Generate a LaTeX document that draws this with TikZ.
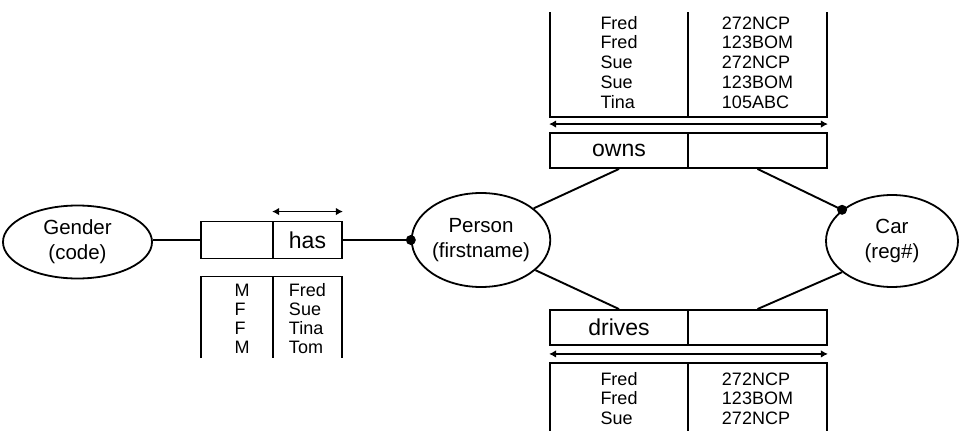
\documentclass[tikz,border=0pt]{standalone}
\usepackage{fontspec}
\setmainfont{Liberation Sans}
\usetikzlibrary{shapes.geometric,arrows.meta}

\tikzset{
  ent/.style={draw, ellipse, line width=1.8pt, inner sep=0pt, align=center,
              font=\fontsize{20.5}{25}\selectfont},
  cell/.style={draw, rectangle, line width=1.9pt, inner sep=0pt,
               font=\fontsize{23}{27}\selectfont},
  conn/.style={line width=1.9pt},
  rolespan/.style={line width=1.8pt, {Latex[length=7pt,width=7.5pt]}-{Latex[length=7pt,width=7.5pt]}},
  joint/.style={circle, fill, inner sep=0pt, minimum size=10pt},
  popcol/.style={anchor=base, inner sep=0pt, font=\fontsize{18}{19.9}\selectfont},
  popcolb/.style={anchor=base, inner sep=0pt, font=\fontsize{18}{19}\selectfont},
  frame/.style={line width=1.7pt}
}

\newcommand{\coltext}[1]{\begin{tabular}[t]{@{}l@{}}#1\end{tabular}}

\begin{document}
\begin{tikzpicture}[x=1pt, y=-1pt]
\useasboundingbox (0,0) rectangle (959,431);

% entity types
\node[ent, minimum width=149pt, minimum height=73pt] (gender) at (77.5,242) {Gender\\(code)};
\node[ent, minimum width=138pt, minimum height=94pt] (person) at (481,240) {Person\\(firstname)};
\node[ent, minimum width=132pt, minimum height=92pt] (car) at (892,241) {Car\\(reg\#)};

% fact type: has
\node[cell, minimum width=72pt, minimum height=37pt] (hasL) at (237,240) {};
\node[cell, minimum width=69pt, minimum height=37pt] (hasR) at (307.5,240) {has};

% fact type: owns
\node[cell, minimum width=138pt, minimum height=35pt] (ownsL) at (619,150.5) {owns};
\node[cell, minimum width=139pt, minimum height=35pt] (ownsR) at (757.5,150.5) {};

% fact type: drives
\node[cell, minimum width=138pt, minimum height=35pt] (drivesL) at (619,327.5) {drives};
\node[cell, minimum width=139pt, minimum height=35pt] (drivesR) at (757.5,327.5) {};

% uniqueness constraints
\draw[rolespan] ([yshift=9pt]hasR.north west) -- ([yshift=9pt]hasR.north east);
\draw[rolespan] ([yshift=8pt]ownsL.north west) -- ([yshift=8pt]ownsR.north east);
\draw[rolespan] ([yshift=-8pt]drivesL.south west) -- ([yshift=-8pt]drivesR.south east);

% role connectors
\draw[conn] (gender.east |- hasL.west) -- (hasL.west);
\node[joint] (pdot) at (person.west) {};
\draw[conn] (hasR.east) -- (pdot.center);
\draw[conn] (ownsL.south) -- (person.31);
\node[joint] (cdot) at (car.148) {};
\draw[conn] (ownsR.south) -- (cdot.center);
\draw[conn] (drivesL.north) -- (person.-29);
\draw[conn] (drivesR.north) -- (car.212);

% population of has
\draw[frame] (201,358) -- (201,276.5) -- (342,276.5) -- (342,358);
\draw[frame] (273,276.5) -- (273,358);
\node[popcolb] (hasP1) at (242,296) {\coltext{M\\F\\F\\M}};
\node[popcolb] (hasP2) at (307.5,296) {\coltext{Fred\\Sue\\Tina\\Tom}};

% population of owns
\draw[frame] (550,12) -- (550,117) -- (827,117) -- (827,12);
\draw[frame] (688,12) -- (688,117);
\node[popcol] (ownsP1) at (619,29) {\coltext{Fred\\Fred\\Sue\\Sue\\Tina}};
\node[popcol] (ownsP2) at (757.5,29) {\coltext{272NCP\\123BOM\\272NCP\\123BOM\\105ABC}};

% population of drives
\draw[frame] (550,431) -- (550,363) -- (827,363) -- (827,431);
\draw[frame] (688,363) -- (688,431);
\node[popcol] (drivesP1) at (619,385) {\coltext{Fred\\Fred\\Sue}};
\node[popcol] (drivesP2) at (757.5,385) {\coltext{272NCP\\123BOM\\272NCP}};
\end{tikzpicture}
\end{document}
